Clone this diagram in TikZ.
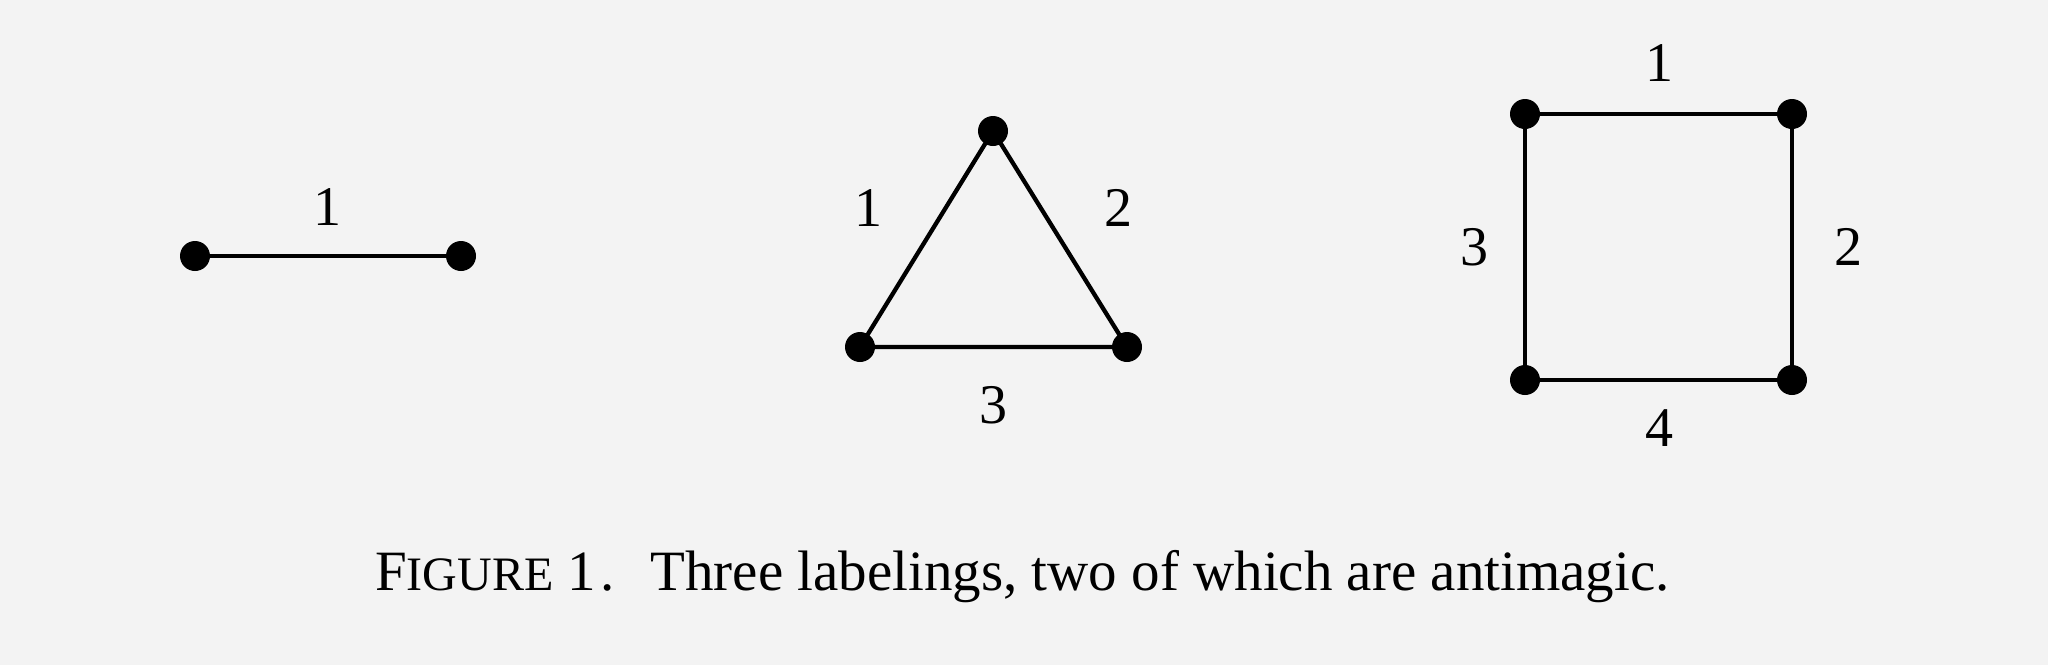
\documentclass[tikz,border=0pt]{standalone}
\usepackage{fontspec}
\setmainfont{Liberation Serif}
\begin{document}
\begin{tikzpicture}[x=1pt,y=-1pt,
  vtx/.style={circle,fill=black,inner sep=0pt,minimum size=30pt},
  edge/.style={line width=4.3pt},
  lab/.style={font=\fontsize{56}{60}\selectfont,inner sep=0pt}]
\fill[fill={rgb,255:red,243;green,243;blue,243}] (0,0) rectangle (2048,665);
\useasboundingbox (0,0) rectangle (2048,665);
% graph 1
\node[vtx] (a1) at (195,256) {};
\node[vtx] (a2) at (461,256) {};
\draw[edge] (a1) -- (a2);
\node[lab] (la) at (327,207) {1};
% triangle
\node[vtx] (t1) at (993,131) {};
\node[vtx] (t2) at (860,347) {};
\node[vtx] (t3) at (1127,347) {};
\draw[edge] (t1.center) -- (t2.center) -- (t3.center) -- cycle;
\node[lab] (lt1) at (868,208) {1};
\node[lab] (lt2) at (1118,208) {2};
\node[lab] (lt3) at (993,405) {3};
% square
\node[vtx] (s1) at (1525,114) {};
\node[vtx] (s2) at (1792,114) {};
\node[vtx] (s3) at (1792,380) {};
\node[vtx] (s4) at (1525,380) {};
\draw[edge] (s1.center) -- (s2.center) -- (s3.center) -- (s4.center) -- cycle;
\node[lab] (ls1) at (1659,63) {1};
\node[lab] (ls2) at (1848,247) {2};
\node[lab] (ls3) at (1474,247) {3};
\node[lab] (ls4) at (1659,428) {4};
% caption
\node[anchor=base west,inner sep=0pt,font=\fontsize{57}{60}\selectfont] (cap) at (375,590)
  {F{\fontsize{48}{50}\selectfont IGURE} 1\kern0.08em.\hspace{0.62em}Three labelings, two of which are antimagic.};
\end{tikzpicture}
\end{document}
